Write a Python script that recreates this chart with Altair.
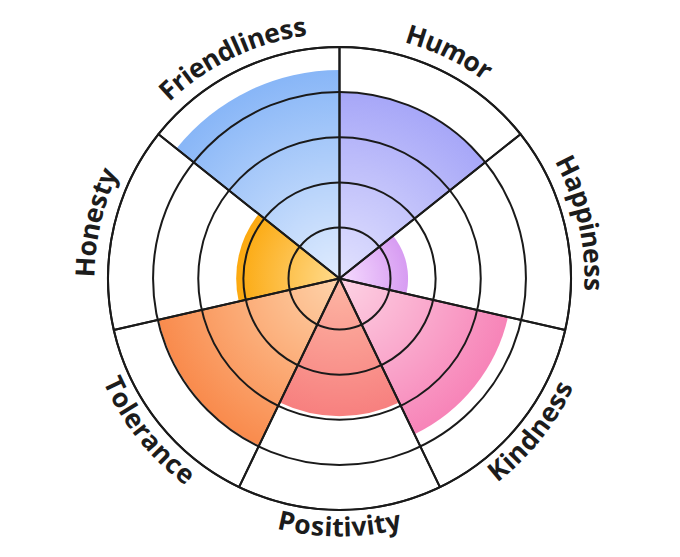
import math
import altair as alt
import pandas as pd

# ---- data ----
categories = ["Humor", "Happiness", "Kindness", "Positivity", "Tolerance", "Honesty", "Friendliness"]
scores = [4.0, 1.39, 3.7, 2.92, 3.98, 2.16, 4.49]
inner_colors = ["#e2e2fe", "#f6dcfe", "#fdd3e4", "#fdb6a4", "#fed3aa", "#ffdb8e", "#e0ecfe"]
outer_colors = ["#a7a7f8", "#d79cf2", "#f784b8", "#f7807f", "#f98b4d", "#fca90f", "#88b6f7"]
ring_levels = [1, 2, 3, 4, 5]

# ---- layout / style ----
N = len(categories)
W, H = 663, 541
R_IN, R_OUT = 51.0, 231.5          # pixel radius of level 1 and level 5
FS = 26.5
TRACK = 1.03
LINE = "#1a1a1a"

theta_scale = alt.Scale(domain=[0, N], range=[0, 2 * math.pi])
radius_scale = alt.Scale(type="linear", domain=[1, 5], range=[R_IN, R_OUT], zero=False)


def to_px(v):
    return R_IN + (v - 1) * (R_OUT - R_IN) / 4


def to_level(px):
    return 1 + (px - R_IN) * 4 / (R_OUT - R_IN)


def radial_fill(i, value, c0, c1):
    """Radial gradient centred on the chart centre, reaching the sector's edge."""
    a = i * 2 * math.pi / N
    b = (i + 1) * 2 * math.pi / N
    R = to_px(value)
    pts = [(0.0, 0.0), (R * math.sin(a), -R * math.cos(a)), (R * math.sin(b), -R * math.cos(b))]
    for k in range(5):
        ang = k * math.pi / 2
        if a < ang < b:
            pts.append((R * math.sin(ang), -R * math.cos(ang)))
    xs = [p[0] for p in pts]
    ys = [p[1] for p in pts]
    minx, miny = min(xs), min(ys)
    w, h = max(xs) - minx, max(ys) - miny
    s = max(w, h)
    ox, oy = (w - s) / 2, (h - s) / 2
    gx = (-minx - ox) / s
    gy = (-miny - oy) / s
    return alt.RadialGradient(
        gradient="radial",
        stops=[alt.GradientStop(color=c0, offset=0), alt.GradientStop(color=c1, offset=1)],
        x1=gx, y1=gy, r1=0, x2=gx, y2=gy, r2=R / s,
    )


sector_df = pd.DataFrame({
    "cat": categories,
    "t0": list(range(N)),
    "t1": [k + 1 for k in range(N)],
    "v": scores,
})

layers = []
for i, cat in enumerate(categories):
    layers.append(
        alt.Chart(sector_df).transform_filter(alt.datum.cat == cat)
        .mark_arc(fill=radial_fill(i, scores[i], inner_colors[i], outer_colors[i]), strokeWidth=0)
        .encode(
            theta=alt.Theta("t0:Q", scale=theta_scale, stack=False),
            theta2="t1:Q",
            radius=alt.Radius("v:Q", scale=radius_scale),
            radius2=alt.value(0),
        )
    )

ring_df = pd.DataFrame({"v": ring_levels, "t0": [0] * len(ring_levels), "t1": [N] * len(ring_levels)})
rings = alt.Chart(ring_df).mark_arc(fillOpacity=0, stroke=LINE, strokeWidth=2).encode(
    theta=alt.Theta("t0:Q", scale=theta_scale, stack=False),
    theta2="t1:Q",
    radius=alt.Radius("v:Q", scale=radius_scale),
    radius2=alt.value(0),
)

spoke_df = pd.DataFrame({"t0": list(range(N)), "t1": [k + 1 for k in range(N)], "v": [max(ring_levels)] * N})
spokes = alt.Chart(spoke_df).mark_arc(fillOpacity=0, stroke=LINE, strokeWidth=2, strokeJoin="round").encode(
    theta=alt.Theta("t0:Q", scale=theta_scale, stack=False),
    theta2="t1:Q",
    radius=alt.Radius("v:Q", scale=radius_scale),
    radius2=alt.value(0),
)

# ---- curved labels, one glyph per row ----
CHAR_EM = {
    "H": .765, "u": .635, "m": .937, "o": .608, "r": .437, "a": .590, "p": .617, "i": .286,
    "n": .635, "e": .586, "s": .503, "K": .656, "d": .617, "P": .604, "t": .421, "v": .559,
    "y": .559, "T": .552, "l": .286, "c": .514, "F": .543,
}
rows = []
for i, cat in enumerate(categories):
    mid = i + 0.5
    mid_deg = mid * 360 / N
    bottom = 90 < mid_deg < 270
    r_px = 250 if bottom else 253
    widths = [CHAR_EM.get(ch, 0.6) * FS * TRACK for ch in cat]
    total = sum(widths)
    cum = 0.0
    for ch, w in zip(cat, widths):
        off = cum + w / 2 - total / 2
        cum += w
        du = (off / r_px) * N / (2 * math.pi)
        t = mid - du if bottom else mid + du
        deg = t * 360 / N
        ang = (deg - 180) % 360 if bottom else deg % 360
        rows.append({"ch": ch, "t": t, "r": to_level(r_px), "ang": ang})
label_df = pd.DataFrame(rows)

labels = alt.Chart(label_df).mark_text(
    font="Open Sans", fontSize=FS, fontWeight="bold", color="#1c1c1c", align="center", baseline="middle"
).encode(
    theta=alt.Theta("t:Q", scale=theta_scale, stack=False),
    radius=alt.Radius("r:Q", scale=radius_scale),
    angle=alt.Angle("ang:Q", scale=None),
    text="ch:N",
)

chart = alt.layer(*layers, rings, spokes, labels).properties(
    width=W, height=H, padding=0, autosize="none"
).configure_view(stroke=None)

chart.save("out.html", embed_options={"renderer": "svg", "actions": False})
